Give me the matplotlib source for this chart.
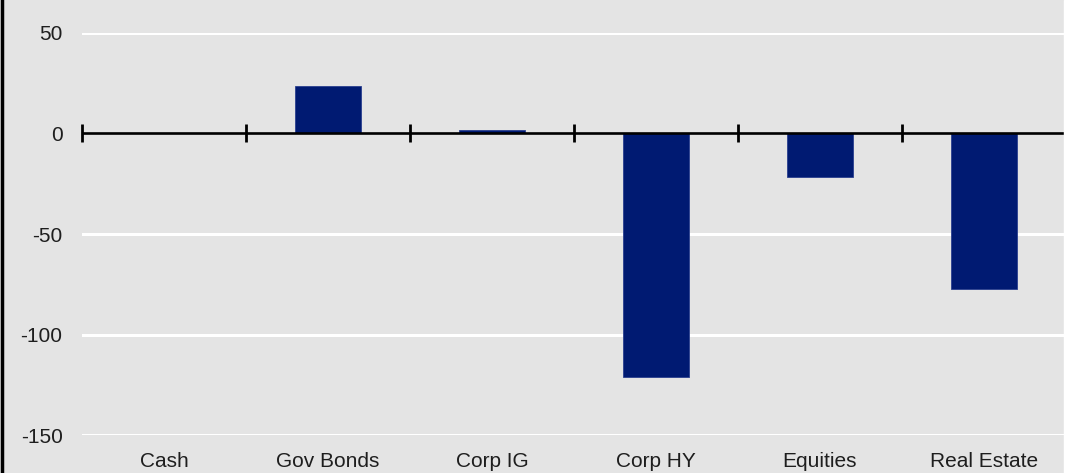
import matplotlib.pyplot as plt
from matplotlib.lines import Line2D
from matplotlib.patches import Rectangle

plt.rcParams['font.family'] = ['Liberation Sans', 'DejaVu Sans']

# Change by asset class (bp)
categories = ['Cash', 'Gov Bonds', 'Corp IG', 'Corp HY', 'Equities', 'Real Estate']
values = [0, 23.5, 1.5, -121, -21.5, -77.5]
y_ticks = [50, 0, -50, -100, -150]

bg = '#e4e4e4'
bar_color = '#001a72'

fig = plt.figure(figsize=(10.7, 4.73), dpi=100, facecolor=bg)
ax = fig.add_axes([82 / 1070, 38 / 473, 984 / 1070, 402 / 473])
ax.set_facecolor(bg)

x = list(range(len(categories)))
ax.bar(x, values, width=0.4, color=bar_color, edgecolor='#2a3f8f',
       linewidth=0.6, zorder=3)

ax.set_xlim(-0.5, len(categories) - 0.5)
ax.set_ylim(-150, 50)

# white gridlines, black zero axis with cross ticks between categories
for t in y_ticks:
    if t != 0:
        ax.axhline(t, color='white', lw=2.2, zorder=1)
ax.axhline(0, color='black', lw=1.9, zorder=4)
bounds = [i - 0.5 for i in range(len(categories) + 1)]
ax.plot(bounds, [0] * len(bounds), linestyle='none', marker='|',
        markersize=13, mew=2, color='black', zorder=4, clip_on=False)

ax.set_yticks(y_ticks)
ax.set_yticklabels([str(t) for t in y_ticks])
ax.set_xticks(x)
ax.set_xticklabels(categories)
ax.tick_params(axis='y', length=0, pad=14, labelsize=15, labelcolor='#1e1e1e')
ax.tick_params(axis='x', length=0, pad=12, labelsize=15, labelcolor='#1e1e1e')
for s in ax.spines.values():
    s.set_visible(False)

# frame edges
fig.add_artist(Line2D([2 / 1070, 2 / 1070], [0, 1], color='black', lw=2.5,
                      transform=fig.transFigure))
fig.add_artist(Rectangle((1064 / 1070, 0), 6 / 1070, 1, color='white',
                         transform=fig.transFigure, zorder=10))

fig.savefig('out.png', dpi=100, facecolor=bg)
